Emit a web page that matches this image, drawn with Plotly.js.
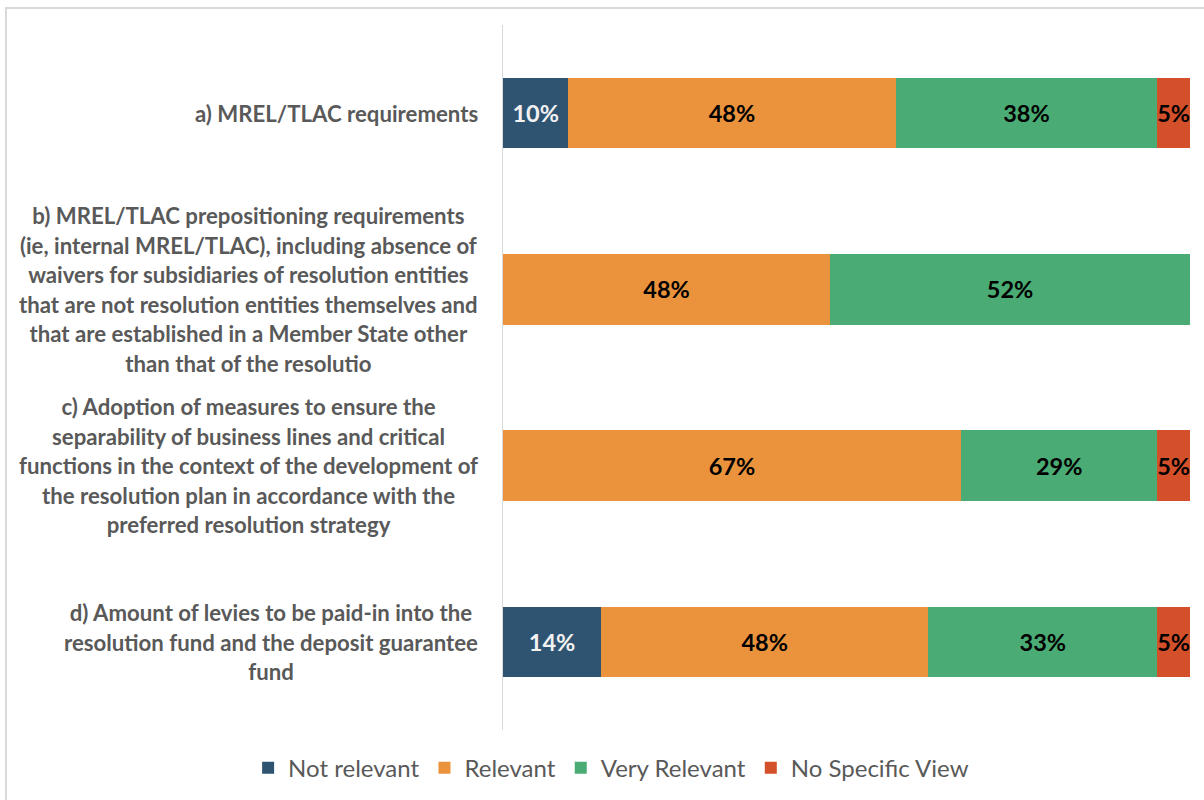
<!DOCTYPE html>
<html>
<head>
<meta charset="utf-8">
<script src="https://cdn.plot.ly/plotly-3.0.1.min.js"></script>
<style>
  html, body { margin: 0; padding: 0; background: #fff; overflow: hidden; }
  #wrap { position: relative; width: 1204px; height: 800px; }
  #chart { width: 1204px; height: 800px; }
  #frame { position: absolute; left: 5px; top: 7px; width: 1400px; height: 1000px;
           border-left: 2px solid #d9d9d9; border-top: 2px solid #d9d9d9; pointer-events: none; }
</style>
</head>
<body>
<div id="wrap"><div id="chart"></div><div id="frame"></div></div>
<script>
// ---- data ----
const categories = [
  "a) MREL/TLAC requirements",
  "b) MREL/TLAC prepositioning requirements<br>(ie, internal MREL/TLAC), including absence of<br>waivers for subsidiaries of resolution entities<br>that are not resolution entities themselves and<br>that are established in a Member State other<br>than that of the resolutio",
  "c) Adoption of measures to ensure the<br>separability of business lines and critical<br>functions in the context of the development of<br>the resolution plan in accordance with the<br>preferred resolution strategy",
  "d) Amount of levies to be paid-in into the<br>resolution fund and the deposit guarantee<br>fund"
];
const seriesNames = ["Not relevant", "Relevant", "Very Relevant", "No Specific View"];
const notRelevant    = [9.52, null, null, 14.29];
const relevant       = [47.62, 47.62, 66.67, 47.62];
const veryRelevant   = [38.10, 52.38, 28.57, 33.33];
const noSpecificView = [4.76, null, 4.76, 4.76];

// ---- styles ----
const colors = ["#2F5472", "#EA933C", "#4AAC74", "#D4502B"];
const textColors = ["#F2F2F2", "#000000", "#000000", "#000000"];
const FONT = "Lato, 'Open Sans', sans-serif";

const seriesValues = [notRelevant, relevant, veryRelevant, noSpecificView];
const traces = seriesValues.map((vals, i) => ({
  type: "bar",
  orientation: "h",
  name: seriesNames[i],
  y: categories,
  x: vals,
  marker: { color: colors[i], line: { width: 0 } },
  texttemplate: "%{x:.0f}%",
  textposition: "inside",
  textangle: 0,
  insidetextanchor: "middle",
  insidetextfont: { family: FONT, size: 23.5, color: textColors[i], weight: "bold" },
  hoverinfo: "skip"
}));

const annotations = categories.map(c => ({
  xref: "paper", yref: "y",
  x: 0, y: c,
  xanchor: "right", yanchor: "middle",
  xshift: -23,
  align: "center",
  showarrow: false,
  text: c.split("<br>").map(s => '<span style="font-size:22.2px">' + s + '</span>').join("<br>"),
  font: { family: FONT, size: 22.7, color: "#595959", weight: "bold" }
}));

const layout = {
  width: 1204, height: 800,
  margin: { l: 503, r: 14, t: 25, b: 70, autoexpand: false },
  paper_bgcolor: "#ffffff",
  plot_bgcolor: "#ffffff",
  barmode: "stack",
  bargap: 0.6,
  showlegend: true,
  uniformtext: { mode: "show", minsize: 23.5 },
  xaxis: { range: [0, 100], visible: false, fixedrange: true },
  yaxis: {
    autorange: "reversed",
    showticklabels: false,
    ticks: "",
    showgrid: false,
    showline: true,
    linecolor: "#d9d9d9",
    linewidth: 1.5,
    zeroline: false
  },
  legend: {
    orientation: "h",
    xref: "paper", yref: "paper",
    x: -0.371, y: -0.054,
    xanchor: "left", yanchor: "middle",
    font: { family: FONT, size: 24, color: "#595959" },
    traceorder: "normal"
  },
  annotations: annotations
};

Plotly.newPlot("chart", traces, layout, { displayModeBar: false, staticPlot: true });
</script>
</body>
</html>
